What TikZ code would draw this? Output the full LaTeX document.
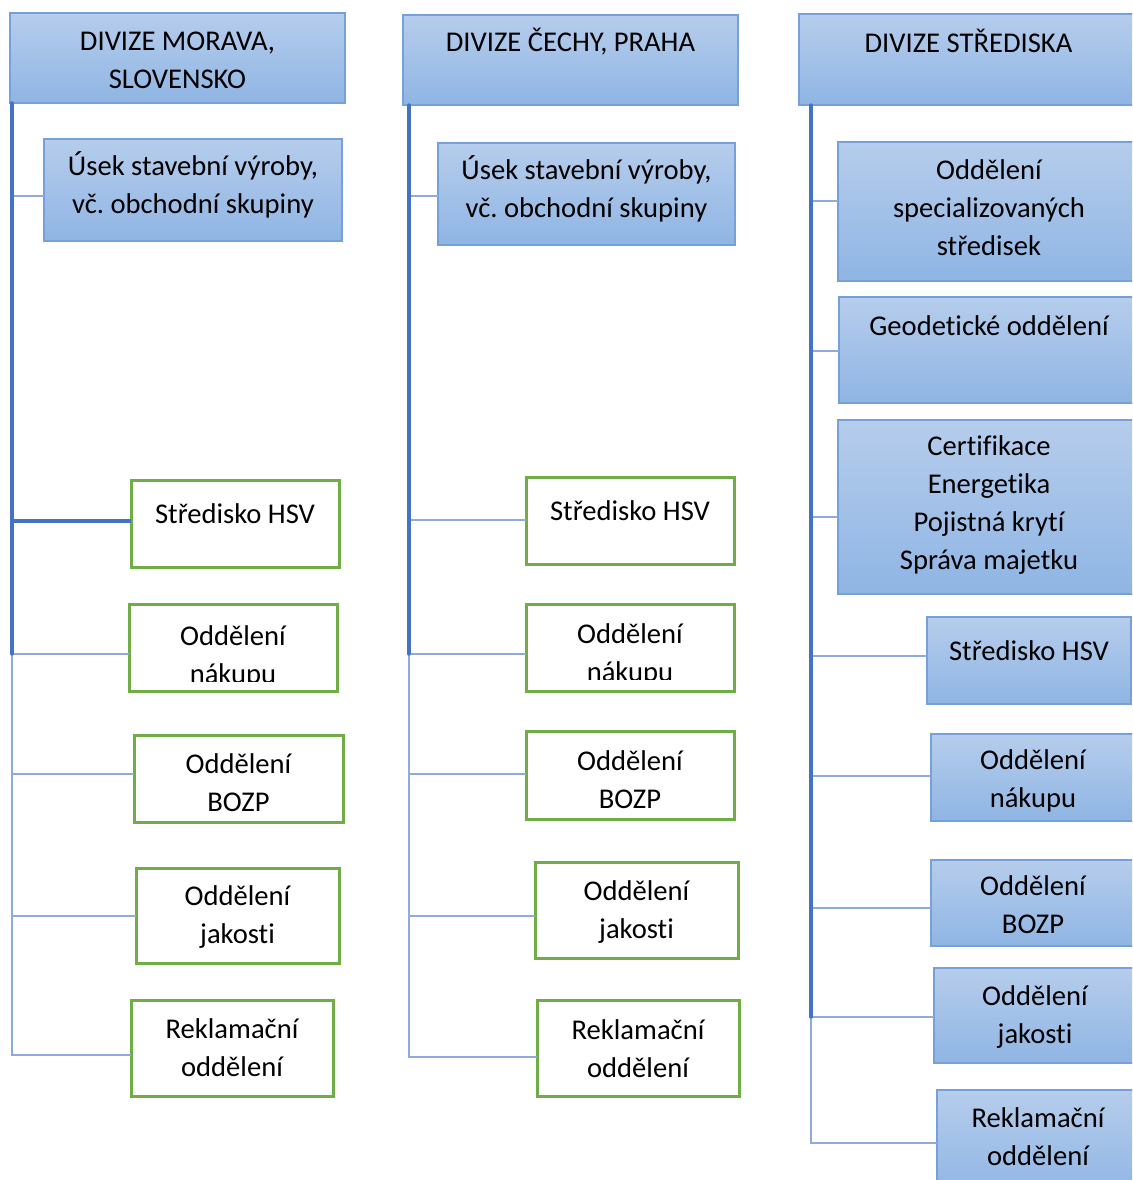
\documentclass[tikz,border=0pt]{standalone}
\usepackage{fontspec}
\setmainfont{Carlito}[Ligatures={NoCommon}, Contextuals={NoAlternate}]
\definecolor{boxtop}{RGB}{182,205,236}
\definecolor{boxbot}{RGB}{143,181,228}
\definecolor{boxedge}{RGB}{118,160,218}
\definecolor{greenedge}{RGB}{112,173,71}
\definecolor{trunkblue}{RGB}{68,114,196}
\definecolor{linkblue}{RGB}{143,171,222}
\tikzset{
  bluebox/.style={draw=boxedge, line width=0.75pt, top color=boxtop, bottom color=boxbot,
    inner sep=0pt, outer sep=0pt, anchor=north west},
  greenbox/.style={draw=greenedge, line width=1.5pt, fill=white,
    inner sep=0pt, outer sep=0pt, anchor=north west},
  txt/.style={anchor=north, inner sep=0pt, align=center, text=black,
    font=\fontsize{14.3pt}{19pt}\selectfont\frenchspacing},
  link/.style={draw=linkblue, line width=1pt},
  trunk/.style={draw=trunkblue, line width=1.7pt, line cap=round},
}
% box: name, style, x1, y1, x2, y2 (pixel grid, y downwards)
\newcommand\orgbox[6]{%
  \node[#2, minimum width={(#5-#3)*0.5pt}, minimum height={(#6-#4)*0.5pt}] (#1) at (#3,#4) {};}
% label: name, box, top of text, text
\newcommand\orgtext[4]{%
  \node[txt] (#1) at (#2.north |- 0,#3) {\strut #4};}
\begin{document}
\begin{tikzpicture}[x=0.5pt, y=-0.5pt]
\useasboundingbox (0,0) rectangle (1132,1180);
\clip (0,0) rectangle (1132,1180);

% ---------------- Division Morava, Slovensko ----------------
\orgbox{h1}{bluebox}{10}{13}{345}{103}
\orgtext{t-h1}{h1}{23}{DIVIZE MORAVA,\\SLOVENSKO}
\orgbox{u1}{bluebox}{44}{139}{342}{241}
\orgtext{t-u1}{u1}{148}{Úsek stavební výroby,\\vč. obchodní skupiny}
\orgbox{s1}{greenbox}{131}{480}{339}{567}
\orgtext{t-s1}{s1}{496}{Středisko HSV}
\orgbox{n1}{greenbox}{129}{604}{337}{691}
\begin{scope}
  \clip (n1.north west) rectangle (337,681);
  \orgtext{t-n1}{n1}{618}{Oddělení\\nákupu}
\end{scope}
\draw[greenedge, line width=1.5pt] (n1.north west) rectangle (n1.south east);
\orgbox{b1}{greenbox}{134}{735}{343}{822}
\orgtext{t-b1}{b1}{746}{Oddělení\\BOZP}
\orgbox{j1}{greenbox}{136}{868}{339}{963}
\orgtext{t-j1}{j1}{878}{Oddělení\\jakosti}
\orgbox{r1}{greenbox}{131}{1000}{333}{1096}
\orgtext{t-r1}{r1}{1011}{Reklamační\\oddělení}

\coordinate (v1) at ([xshift=1pt]h1.south west);
\foreach \c/\yy in {u1/196, s1/521, n1/654, b1/774, j1/916, r1/1055}
  \draw[link] (v1) |- (\c.west |- 0,\yy);
\draw[trunk] (v1) -- (v1 |- 0,654);
\draw[trunk, line cap=butt] (v1 |- 0,521) -- (s1.west |- 0,521);

% ---------------- Division Čechy, Praha ----------------
\orgbox{h2}{bluebox}{403}{15}{738}{105}
\orgtext{t-h2}{h2}{24}{DIVIZE ČECHY, PRAHA}
\orgbox{u2}{bluebox}{438}{143}{735}{245}
\orgtext{t-u2}{u2}{152}{Úsek stavební výroby,\\vč. obchodní skupiny}
\orgbox{s2}{greenbox}{526}{477}{734}{564}
\orgtext{t-s2}{s2}{493}{Středisko HSV}
\orgbox{n2}{greenbox}{526}{604}{734}{691}
\begin{scope}
  \clip (n2.north west) rectangle (734,679);
  \orgtext{t-n2}{n2}{616}{Oddělení\\nákupu}
\end{scope}
\draw[greenedge, line width=1.5pt] (n2.north west) rectangle (n2.south east);
\orgbox{b2}{greenbox}{526}{731}{734}{819}
\orgtext{t-b2}{b2}{743}{Oddělení\\BOZP}
\orgbox{j2}{greenbox}{535}{862}{738}{958}
\orgtext{t-j2}{j2}{873}{Oddělení\\jakosti}
\orgbox{r2}{greenbox}{537}{1000}{739}{1096}
\orgtext{t-r2}{r2}{1012}{Reklamační\\oddělení}

\coordinate (v2) at ([xshift=3pt]h2.south west);
\foreach \c/\yy in {u2/196, s2/520, n2/654, b2/774, j2/916, r2/1057}
  \draw[link] (v2) |- (\c.west |- 0,\yy);
\draw[trunk] (v2) -- (v2 |- 0,654);

% ---------------- Division Střediska ----------------
\orgbox{h3}{bluebox}{799}{14}{1138}{105}
\orgtext{t-h3}{h3}{25}{DIVIZE STŘEDISKA}
\orgbox{p3}{bluebox}{838}{142}{1140}{281}
\orgtext{t-p3}{p3}{152}{Oddělení\\specializovaných\\středisek}
\orgbox{g3}{bluebox}{839}{297}{1139}{403}
\orgtext{t-g3}{g3}{308}{Geodetické oddělení}
\orgbox{c3}{bluebox}{838}{420}{1140}{594}
\orgtext{t-c3}{c3}{428}{Certifikace\\Energetika\\Pojistná krytí\\Správa majetku}
\orgbox{s3}{bluebox}{927}{617}{1131}{704}
\orgtext{t-s3}{s3}{633}{Středisko HSV}
\orgbox{n3}{bluebox}{931}{734}{1135}{821}
\orgtext{t-n3}{n3}{742}{Oddělení\\nákupu}
\orgbox{b3}{bluebox}{931}{860}{1135}{946}
\orgtext{t-b3}{b3}{868}{Oddělení\\BOZP}
\orgbox{j3}{bluebox}{934}{968}{1136}{1063}
\orgtext{t-j3}{j3}{978}{Oddělení\\jakosti}
\orgbox{r3}{bluebox}{937}{1090}{1139}{1196}
\orgtext{t-r3}{r3}{1100}{Reklamační\\oddělení}

\coordinate (v3) at ([xshift=6pt]h3.south west);
\foreach \c/\yy in {p3/201, g3/351, c3/517, s3/656, n3/776, b3/908, j3/1017, r3/1143}
  \draw[link] (v3) |- (\c.west |- 0,\yy);
\draw[trunk] (v3) -- (v3 |- 0,1017);
\end{tikzpicture}
\end{document}
